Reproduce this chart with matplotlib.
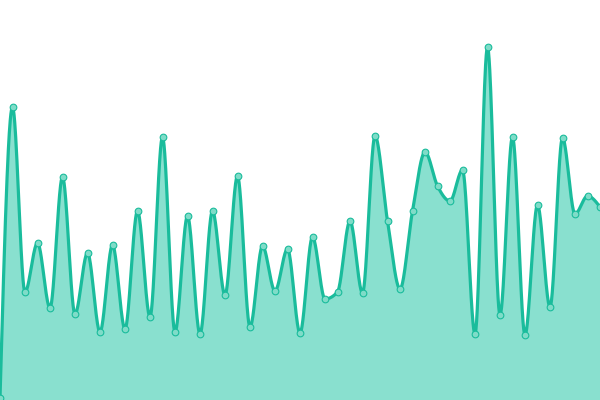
import numpy as np
import matplotlib
matplotlib.use("Agg")
import matplotlib.pyplot as plt

# Data (index -> value)
values = [2, 293, 108, 157, 92, 223, 86, 147, 68, 155, 71, 189, 83, 263, 68, 184,
          66, 189, 105, 224, 73, 154, 109, 151, 67, 163, 101, 108, 179, 107, 264, 179,
          111, 189, 248, 214, 199, 230, 66, 353, 85, 263, 65, 195, 93, 262, 186, 204, 193]
y_max = 400

LINE = "#1abc9c"
FILL = "#89e0cf"
POINT = "#7fdcc8"


def monotone_curve(x, y, n=40):
    x = np.asarray(x, float)
    y = np.asarray(y, float)
    h = np.diff(x)
    s = np.diff(y) / h
    t = np.zeros_like(y)
    for i in range(1, len(x) - 1):
        h0, h1 = h[i - 1], h[i]
        s0, s1 = s[i - 1], s[i]
        p = (s0 * h1 + s1 * h0) / (h0 + h1)
        t[i] = (np.sign(s0) + np.sign(s1)) * min(abs(s0), abs(s1), 0.5 * abs(p))
    t[0] = (3 * s[0] - t[1]) / 2
    t[-1] = (3 * s[-1] - t[-2]) / 2
    xs, ys = [], []
    u = np.linspace(0, 1, n)
    for i in range(len(x) - 1):
        dx = h[i]
        p0 = (x[i], y[i])
        p1 = (x[i] + dx / 3, y[i] + dx * t[i] / 3)
        p2 = (x[i + 1] - dx / 3, y[i + 1] - dx * t[i + 1] / 3)
        p3 = (x[i + 1], y[i + 1])
        bx = (1 - u) ** 3 * p0[0] + 3 * (1 - u) ** 2 * u * p1[0] + 3 * (1 - u) * u ** 2 * p2[0] + u ** 3 * p3[0]
        by = (1 - u) ** 3 * p0[1] + 3 * (1 - u) ** 2 * u * p1[1] + 3 * (1 - u) * u ** 2 * p2[1] + u ** 3 * p3[1]
        if i > 0:
            bx, by = bx[1:], by[1:]
        xs.append(bx)
        ys.append(by)
    return np.concatenate(xs), np.concatenate(ys)


x = np.arange(len(values))
cx, cy = monotone_curve(x, values)

fig = plt.figure(figsize=(6, 4), dpi=100)
ax = fig.add_axes([0, 0, 1, 1])
ax.fill_between(cx, 0, cy, color=FILL, linewidth=0)
ax.plot(cx, cy, color=LINE, linewidth=2.3, solid_capstyle="round")
ax.plot(x, values, linestyle="none", marker="o", markersize=4.8,
        markerfacecolor=POINT, markeredgecolor=LINE, markeredgewidth=0.8, clip_on=False)
ax.set_xlim(0, len(values) - 1)
ax.set_ylim(0, y_max)
ax.axis("off")
fig.savefig("out.png", dpi=100)
